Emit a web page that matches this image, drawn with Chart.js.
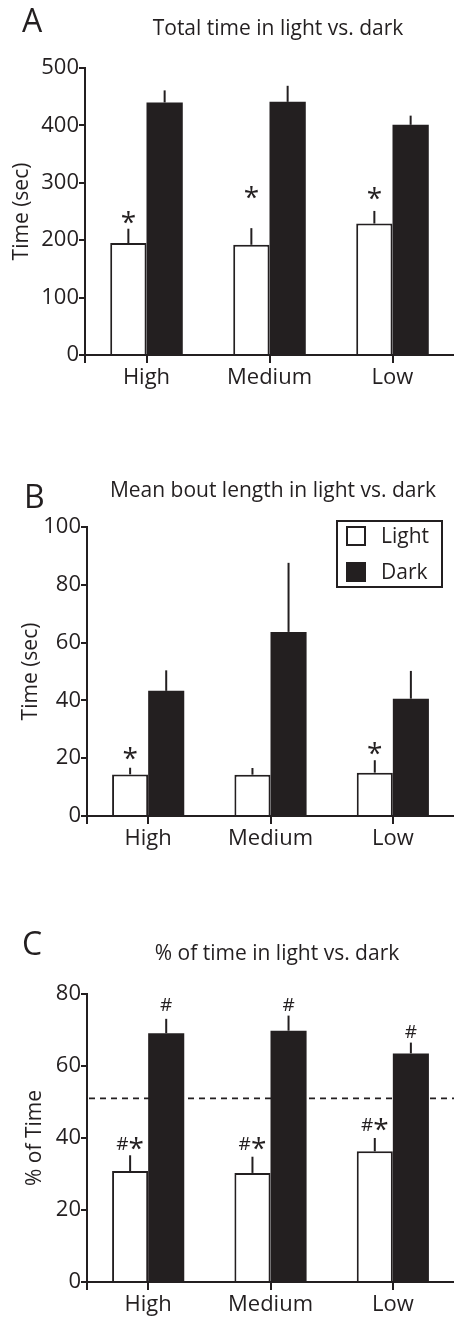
<!DOCTYPE html>
<html lang="en">
<head>
<meta charset="utf-8">
<title>Light vs. dark</title>
<script src="https://cdn.jsdelivr.net/npm/chart.js"></script>
<style>
  body { margin: 0; background: #fff; }
  #page { position: relative; width: 454px; height: 1317px; overflow: hidden; }
  .panel { position: absolute; left: 0; width: 454px; }
</style>
</head>
<body>
<div id="page">
  <div class="panel" style="top:0;height:420px"><canvas id="chartA"></canvas></div>
  <div class="panel" style="top:420px;height:440px"><canvas id="chartB"></canvas></div>
  <div class="panel" style="top:860px;height:457px"><canvas id="chartC"></canvas></div>
</div>
<script>
const groups = ['High', 'Medium', 'Low'];
const seriesNames = ['Light', 'Dark'];

// A - total time (sec)
const totalLight = [195, 192, 229];
const totalLightSem = [25, 29, 22];
const totalDark = [440, 441, 401];
const totalDarkSem = [21, 28, 16];
const totalLightMarks = ['*', '*', '*'];
const totalLightMarkAt = [239, 283, 281];

// B - mean bout length (sec)
const boutLight = [14.4, 14.3, 15.0];
const boutLightSem = [2.3, 2.3, 4.3];
const boutDark = [43.3, 63.7, 40.6];
const boutDarkSem = [7.1, 23.9, 9.6];
const boutLightMarks = ['*', '', '*'];
const boutLightMarkAt = [21.7, 0, 23.5];

// C - % of time
const pctLight = [30.8, 30.3, 36.3];
const pctLightSem = [4.4, 4.5, 3.7];
const pctDark = [69.1, 69.8, 63.5];
const pctDarkSem = [4.0, 4.2, 3.0];
const pctLightMarks = ['#*', '#*', '#*'];
const pctLightMarkAt = [38.6, 38.6, 43.7];
const pctDarkMarks = ['#', '#', '#'];
const pctDarkMarkAt = [77.1, 77.1, 69.5];
const chanceLine = 51;

const ink = '#231f20';
const font = "'Open Sans', sans-serif";

// draw a mark so the glyphs are visually centred on (x, y)
function drawMark(ctx, text, x, y) {
  const parts = text.split('').map(ch => {
    const size = ch === '*' ? 28 : 19;
    ctx.font = size + 'px ' + font;
    const m = ctx.measureText(ch);
    return { ch, size, w: m.width, asc: m.actualBoundingBoxAscent, desc: m.actualBoundingBoxDescent };
  });
  const total = parts.reduce((s, p) => s + p.w, 0);
  let cx = x - total / 2;
  ctx.textAlign = 'left';
  ctx.textBaseline = 'alphabetic';
  parts.forEach(p => {
    ctx.font = p.size + 'px ' + font;
    ctx.fillText(p.ch, cx, y + (p.asc - p.desc) / 2);
    cx += p.w;
  });
}

const extras = {
  id: 'extras',
  beforeDatasetsDraw(chart, args, o) {
    if (o.refLine == null) return;
    const { ctx, chartArea: a, scales: { y } } = chart;
    const py = y.getPixelForValue(o.refLine);
    ctx.save();
    ctx.strokeStyle = ink;
    ctx.lineWidth = 1.6;
    ctx.setLineDash([6, 5]);
    ctx.beginPath();
    ctx.moveTo(a.left + 2, py);
    ctx.lineTo(a.right, py);
    ctx.stroke();
    ctx.restore();
  },
  afterDraw(chart, args, o) {
    const { ctx, chartArea: a, scales: { y } } = chart;
    ctx.save();
    ctx.strokeStyle = ink;
    ctx.fillStyle = ink;
    ctx.lineWidth = 2;

    // error bars (upper only) and significance marks
    chart.data.datasets.forEach((ds, i) => {
      chart.getDatasetMeta(i).data.forEach((bar, j) => {
        const top = y.getPixelForValue(ds.data[j] + ds.sem[j]);
        ctx.beginPath();
        ctx.moveTo(bar.x, bar.y);
        ctx.lineTo(bar.x, top);
        ctx.stroke();
        if (ds.marks && ds.marks[j]) {
          drawMark(ctx, ds.marks[j], bar.x, y.getPixelForValue(ds.markAt[j]));
        }
      });
    });

    // y axis runs a little below the x axis
    ctx.beginPath();
    ctx.moveTo(a.left, a.bottom);
    ctx.lineTo(a.left, a.bottom + 8);
    ctx.stroke();

    // panel letter and title
    ctx.textBaseline = 'alphabetic';
    ctx.textAlign = 'left';
    ctx.font = '32px ' + font;
    ctx.fillText(o.letter, o.letterX, o.letterY);
    ctx.textAlign = 'center';
    ctx.font = '21px ' + font;
    ctx.fillText(o.title, o.titleX, o.titleY);

    // legend box
    if (o.legend) {
      const L = o.legend;
      ctx.strokeRect(L.x, L.y, L.w, L.h);
      ctx.font = '21px ' + font;
      ctx.textAlign = 'left';
      ctx.textBaseline = 'middle';
      chart.data.datasets.forEach((ds, i) => {
        const sy = L.y + 6 + i * 36;
        ctx.fillStyle = ds.backgroundColor;
        ctx.fillRect(L.x + 10, sy, 18, 18);
        ctx.strokeRect(L.x + 10, sy, 18, 18);
        ctx.fillStyle = ink;
        ctx.fillText(ds.label, L.x + 44, sy + 10);
      });
    }
    ctx.restore();
  }
};

function makePanel(id, cfg) {
  return new Chart(document.getElementById(id), {
    type: 'bar',
    data: {
      labels: groups,
      datasets: [
        {
          label: seriesNames[0], data: cfg.light, sem: cfg.lightSem,
          marks: cfg.lightMarks, markAt: cfg.lightMarkAt,
          backgroundColor: '#ffffff', borderColor: ink, borderWidth: 2
        },
        {
          label: seriesNames[1], data: cfg.dark, sem: cfg.darkSem,
          marks: cfg.darkMarks, markAt: cfg.darkMarkAt,
          backgroundColor: ink, borderColor: ink, borderWidth: 0
        }
      ]
    },
    options: {
      responsive: true,
      maintainAspectRatio: false,
      animation: false,
      events: [],
      layout: { padding: { top: cfg.top, left: 0, right: 0, bottom: 0 } },
      datasets: { bar: { barPercentage: 1, categoryPercentage: 0.59 } },
      scales: {
        x: {
          afterFit: s => { s.height = cfg.xh; },
          grid: { offset: false, drawOnChartArea: false, tickLength: 8, color: ink, lineWidth: 2 },
          border: { color: ink, width: 2, z: 1 },
          ticks: { color: ink, font: { family: font, size: 22 }, padding: 2 }
        },
        y: {
          min: 0, max: cfg.max,
          afterFit: s => { s.width = cfg.left; },
          grid: { drawOnChartArea: false, tickLength: 6, color: ink, lineWidth: 2 },
          border: { color: ink, width: 2, z: 1 },
          ticks: { stepSize: cfg.step, color: ink, font: { family: font, size: 22 }, padding: 0 },
          title: { display: true, text: cfg.yTitle, color: ink, font: { family: font, size: 21 }, padding: { top: cfg.yTitlePad } }
        }
      },
      plugins: {
        legend: { display: false },
        tooltip: { enabled: false },
        extras: cfg.extras
      }
    },
    plugins: [extras]
  });
}

makePanel('chartA', {
  light: totalLight, lightSem: totalLightSem, lightMarks: totalLightMarks, lightMarkAt: totalLightMarkAt,
  dark: totalDark, darkSem: totalDarkSem,
  max: 500, step: 100, yTitle: 'Time (sec)', yTitlePad: 9,
  top: 68, left: 85, xh: 65,
  extras: { letter: 'A', letterX: 22, letterY: 32, title: 'Total time in light vs. dark', titleX: 278, titleY: 35 }
});

makePanel('chartB', {
  light: boutLight, lightSem: boutLightSem, lightMarks: boutLightMarks, lightMarkAt: boutLightMarkAt,
  dark: boutDark, darkSem: boutDarkSem,
  max: 100, step: 20, yTitle: 'Time (sec)', yTitlePad: 18,
  top: 107, left: 87, xh: 44,
  extras: {
    letter: 'B', letterX: 24, letterY: 88, title: 'Mean bout length in light vs. dark', titleX: 273, titleY: 77,
    legend: { x: 337, y: 101, w: 105, h: 66 }
  }
});

makePanel('chartC', {
  light: pctLight, lightSem: pctLightSem, lightMarks: pctLightMarks, lightMarkAt: pctLightMarkAt,
  dark: pctDark, darkSem: pctDarkSem, darkMarks: pctDarkMarks, darkMarkAt: pctDarkMarkAt,
  max: 80, step: 20, yTitle: '% of Time', yTitlePad: 22,
  top: 134, left: 87, xh: 35,
  extras: { letter: 'C', letterX: 22, letterY: 95, title: '% of time in light vs. dark', titleX: 277, titleY: 100, refLine: chanceLine }
});
</script>
</body>
</html>
